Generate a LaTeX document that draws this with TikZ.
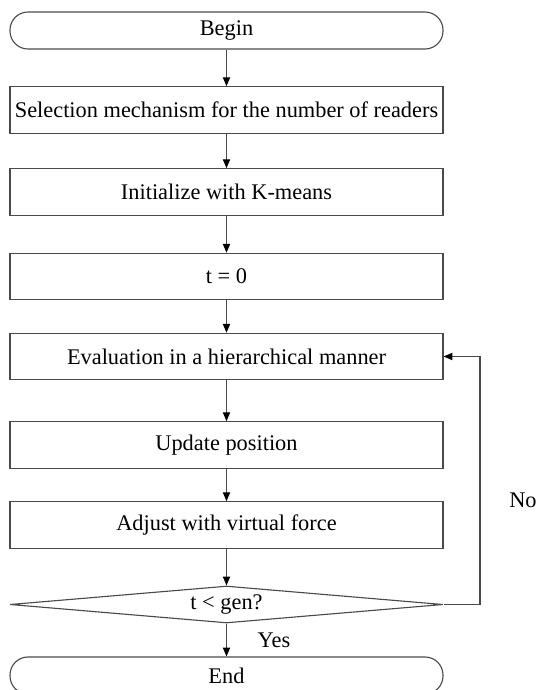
\documentclass[tikz,border=0pt]{standalone}
\usepackage{fontspec}
\setmainfont{Liberation Serif}
\definecolor{flowline}{HTML}{4A4A4A}
\usetikzlibrary{arrows.meta,positioning,shapes.geometric}

\begin{document}
\begin{tikzpicture}[font=\fontsize{15.9}{19}\selectfont]
        \tikzset{
            flowstep/.style={
                draw=flowline,
                fill=white,
                line width=0.8pt,
                minimum width=10.825cm,
                minimum height=1.1625cm,
                inner sep=0pt,
                align=center
            },
            flowterminal/.style={flowstep,rounded corners=0.45cm,minimum height=0.925cm},
            flowdecision/.style={
                flowstep,
                diamond,
                aspect=11.7,
                minimum height=0.925cm
            },
            flowarrow/.style={
                -{Triangle[length=2.2mm,width=1.8mm,color=black]},
                draw=flowline,
                line width=0.8pt
            }
        }

        \useasboundingbox (0,0) rectangle (13.5,-17.25);

        \node[flowterminal] (begin) at (5.6625,-0.7625) {Begin};
        \node[flowstep] (readers) at (5.6625,-2.75)
            {Selection mechanism for the number of readers};
        \node[flowstep] (kmeans) at (5.6625,-4.8) {Initialize with K-means};
        \node[flowstep] (tzero) at (5.6625,-6.9125) {t = 0};
        \node[flowstep] (evaluate) at (5.6625,-8.9125)
            {Evaluation in a hierarchical manner};
        \node[flowstep] (update) at (5.6625,-11.125) {Update position};
        \node[flowstep] (adjust) at (5.6625,-13.125) {Adjust with virtual force};
        \node[flowdecision] (check) at (5.6625,-15.1125) {t < gen?};
        \node[flowterminal] (end) at (5.6625,-16.8875) {End};
        \coordinate (loopcorner) at (12.0,-15.1125);

        \draw[flowarrow] (begin.south) -- (readers.north);
        \draw[flowarrow] (readers.south) -- (kmeans.north);
        \draw[flowarrow] (kmeans.south) -- (tzero.north);
        \draw[flowarrow] (tzero.south) -- (evaluate.north);
        \draw[flowarrow] (evaluate.south) -- (update.north);
        \draw[flowarrow] (update.south) -- (adjust.north);
        \draw[flowarrow] (adjust.south) -- (check.north);
        \draw[flowarrow] (check.south) --
            node[right=0.65cm]{Yes} (end.north);
        \draw[flowarrow] (check.east) -- (loopcorner) |- (evaluate.east);

        \node (no) at (13.075,-12.5) {No};
    \end{tikzpicture}
\end{document}
